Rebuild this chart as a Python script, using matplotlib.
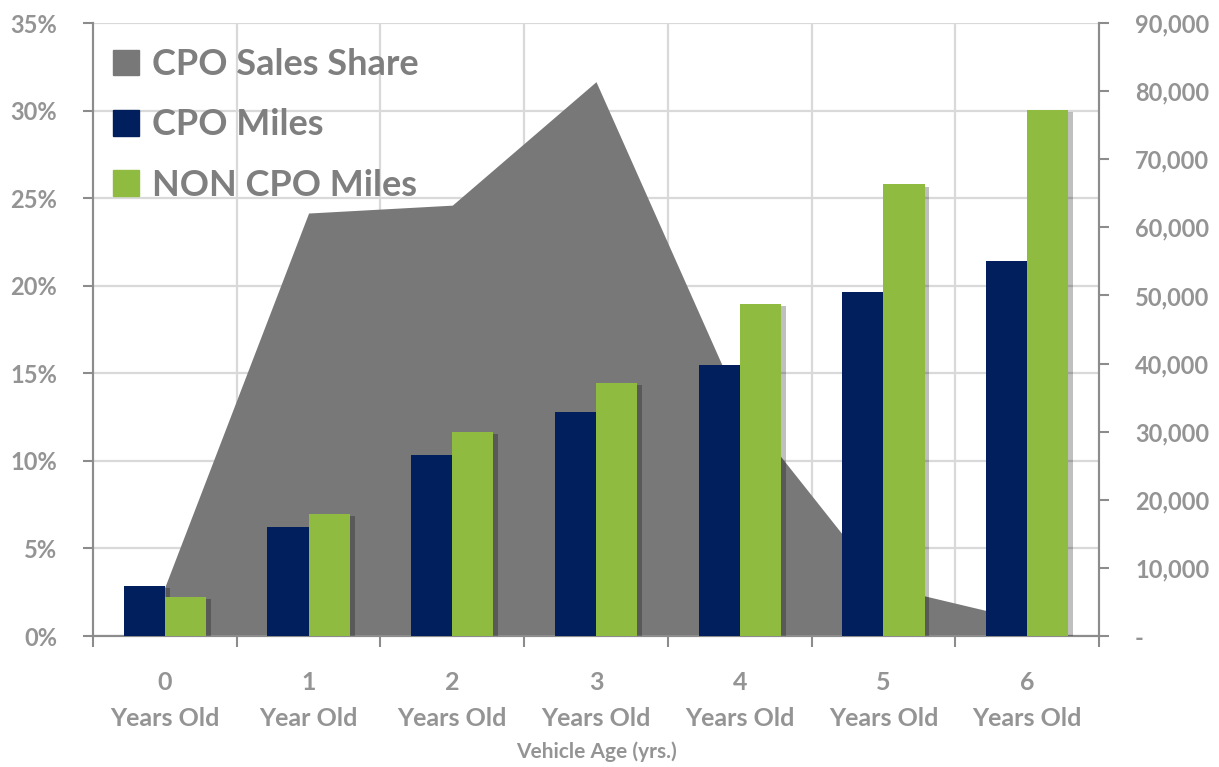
import matplotlib
matplotlib.use("Agg")
import matplotlib.pyplot as plt
import matplotlib.patheffects as pe
from matplotlib.patches import Patch
from matplotlib.ticker import FuncFormatter, FixedLocator
import numpy as np

# ---- data ----
ages = ["0", "1", "2", "3", "4", "5", "6"]
age_words = ["Years Old", "Year Old", "Years Old", "Years Old", "Years Old", "Years Old", "Years Old"]
cpo_sales_share = [2.8, 24.15, 24.6, 31.65, 13.2, 2.85, 0.9]          # percent
cpo_miles = [7400, 16000, 26600, 32900, 39800, 50500, 55100]
non_cpo_miles = [5700, 17900, 30000, 37100, 48800, 66300, 77200]
left_ticks = [0, 5, 10, 15, 20, 25, 30, 35]
right_ticks = [0, 10000, 20000, 30000, 40000, 50000, 60000, 70000, 80000, 90000]

plt.rcParams['font.family'] = ['Lato', 'DejaVu Sans']
plt.rcParams['font.weight'] = 'bold'

TXT = '#949494'
SPINE = '#8c8c8c'
GRID = '#d9d9d9'
AREA = '#787878'
NAVY = '#001f5c'
GREEN = '#8fbc40'

fig = plt.figure(figsize=(12.19, 7.67), dpi=100)
ax = fig.add_axes([93/1219, 1-636/767, (1099-93)/1219, (636-23)/767])
x = np.arange(len(ages))

# area (left axis)
ax.fill_between(x, 0, cpo_sales_share, color=AREA, linewidth=0, zorder=2)
ax.set_xlim(-0.5, len(ages)-0.5)
ax.set_ylim(0, 35)
ax.yaxis.set_major_locator(FixedLocator(left_ticks))
ax.yaxis.set_major_formatter(FuncFormatter(lambda v, p: f"{v:.0f}%"))
ax.grid(axis='y', color=GRID, linewidth=1.6, zorder=0)
ax.set_axisbelow(True)
for b in np.arange(-0.5, len(ages)+0.5, 1.0)[1:-1]:
    ax.axvline(b, color=GRID, linewidth=1.6, zorder=1)

ax.set_xticks(x)
ax.set_xticklabels([f"{a}\n{w}" for a, w in zip(ages, age_words)], linespacing=1.72)
ax.set_xticks(np.arange(-0.5, len(ages), 1.0), minor=True)
ax.tick_params(axis='x', which='major', length=0, pad=25, labelsize=18, labelcolor=TXT)
ax.tick_params(axis='x', which='minor', length=8, width=1.5, color=SPINE, direction='out')
ax.tick_params(axis='y', length=7, width=1.5, color=SPINE, pad=19, labelsize=17, labelcolor=TXT)
ax.set_xlabel("Vehicle Age (yrs.)", fontsize=15, color=TXT, labelpad=8, fontweight='bold')

for s in ['left', 'bottom', 'right']:
    ax.spines[s].set_color(SPINE)
    ax.spines[s].set_linewidth(1.5)
ax.spines['top'].set_visible(False)

# bars (right axis)
ax2 = ax.twinx()
w = 0.286
shadow = [pe.SimplePatchShadow(offset=(3.5, -1.5), shadow_rgbFace='black', alpha=0.25), pe.Normal()]
b1 = ax2.bar(x - w/2, cpo_miles, width=w, color=NAVY, zorder=3)
b2 = ax2.bar(x + w/2, non_cpo_miles, width=w, color=GREEN, zorder=3)
for r in list(b1) + list(b2):
    r.set_path_effects(shadow)
ax2.set_ylim(0, 90000)
ax2.yaxis.set_major_locator(FixedLocator(right_ticks))
ax2.yaxis.set_major_formatter(FuncFormatter(lambda v, p: "-" if v == 0 else f"{v:,.0f}"))
ax2.tick_params(axis='y', length=7, width=1.5, color=SPINE, pad=19, labelsize=17, labelcolor=TXT)
for s in ['left', 'bottom', 'right']:
    ax2.spines[s].set_color(SPINE)
    ax2.spines[s].set_linewidth(1.5)
ax2.spines['top'].set_visible(False)

handles = [Patch(color=AREA), Patch(color=NAVY), Patch(color=GREEN)]
leg = ax2.legend(handles, ["CPO Sales Share", "CPO Miles", "NON CPO Miles"],
                 loc='upper left', bbox_to_anchor=(113/1219, 1-48/767),
                 bbox_transform=fig.transFigure, frameon=False,
                 fontsize=26, handlelength=0.72, handleheight=0.72,
                 handletextpad=0.35, labelspacing=0.76, borderpad=0, borderaxespad=0)
for t in leg.get_texts():
    t.set_color('#7f7f7f')
    t.set_fontweight('bold')

fig.savefig("out.png", dpi=100)
